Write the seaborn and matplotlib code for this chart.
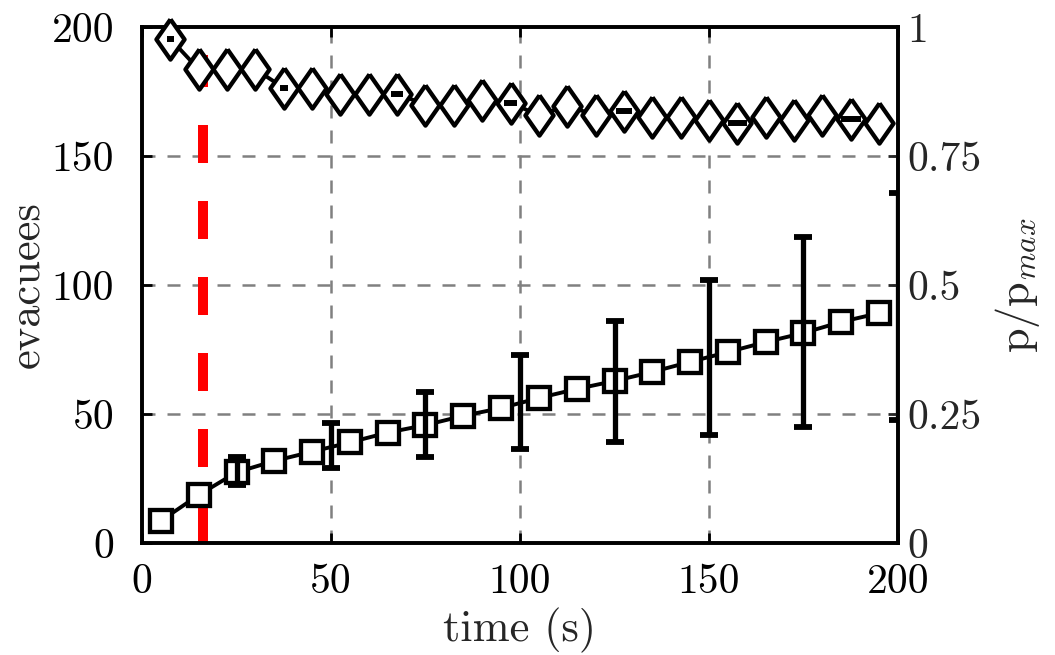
import numpy as np
import pandas as pd
import matplotlib
matplotlib.use("Agg")
import matplotlib.pyplot as plt
import seaborn as sns

# ---- data ----
sq_time = [5, 15, 25, 35, 45, 55, 65, 75, 85, 95, 105, 115, 125, 135, 145, 155, 165, 175, 185, 195]
evacuees = [8.6, 18.6, 27.4, 31.8, 35.4, 39.0, 42.8, 45.7, 49.3, 52.3, 56.2, 59.7, 62.8, 66.3, 70.2,
            74.0, 77.9, 81.4, 85.7, 89.1]

err_time = [25, 50, 75, 100, 125, 150, 175, 200]
err_low = [22.5, 29.0, 33.3, 36.4, 39.0, 42.0, 45.0, 47.7]
err_high = [33.3, 46.5, 58.5, 72.9, 86.0, 102.0, 118.6, 135.7]

dm_time = [7.5, 15, 22.5, 30, 37.5, 45, 52.5, 60, 67.5, 75, 82.5, 90, 97.5, 105, 112.5, 120, 127.5,
           135, 142.5, 150, 157.5, 165, 172.5, 180, 187.5, 195]
p_ratio = [0.977, 0.918, 0.918, 0.918, 0.882, 0.882, 0.871, 0.871, 0.871, 0.849, 0.849, 0.859, 0.853,
           0.829, 0.847, 0.829, 0.837, 0.826, 0.826, 0.820, 0.813, 0.826, 0.820, 0.829, 0.822, 0.813]

mk_time = [7.5, 37.5, 67.5, 97.5, 127.5, 157.5, 187.5]
mk_ratio = [0.977, 0.882, 0.871, 0.853, 0.837, 0.813, 0.822]
mk_xerr = [0.93, 1.1, 1.55, 1.75, 2.2, 2.5, 2.65]

red_time = 16.2

x_ticks = [0, 50, 100, 150, 200]
y_ticks = [0, 50, 100, 150, 200]
y2_ticks = [0, 0.25, 0.5, 0.75, 1]
y2_labels = ["0", "0.25", "0.5", "0.75", "1"]

# ---- style ----
sns.set_theme(style="white")
plt.rcParams["font.family"] = ["cmr10", "DejaVu Serif"]
plt.rcParams["mathtext.fontset"] = "cm"
plt.rcParams["axes.formatter.use_mathtext"] = True
plt.rcParams["axes.unicode_minus"] = False

fig = plt.figure(figsize=(10.55, 6.55), dpi=100)
ax = fig.add_axes([142 / 1055, 1 - 543 / 655, (898 - 142) / 1055, (543 - 27) / 655])
ax2 = ax.twinx()
ax2.set_position(ax.get_position())
ax2.patch.set_visible(False)

ax.set_xlim(0, 200)
ax.set_ylim(0, 200)
ax2.set_ylim(0, 1)

# grid
for v in [50, 100, 150]:
    ax.axvline(v, color="#808080", lw=1.8, ls=(0, (5.2, 4.8)), zorder=0)
    ax.axhline(v, color="#808080", lw=1.8, ls=(0, (5.2, 4.8)), zorder=0)

# red dashed line
ax.plot([red_time, red_time], [0, 189], color="#ff0000", lw=7.2, ls=(0, (3.8, 3.8)),
        solid_capstyle="butt", dash_capstyle="butt", zorder=1)

# squares
df_sq = pd.DataFrame({"time": sq_time, "evacuees": evacuees})
sns.lineplot(data=df_sq, x="time", y="evacuees", ax=ax, color="black", lw=2.8,
             marker="s", markersize=16.5, markerfacecolor="white", markeredgecolor="black",
             markeredgewidth=3.1, zorder=3)

lo = np.array(err_low)
hi = np.array(err_high)
mid = (lo + hi) / 2
half = (hi - lo) / 2
ax.errorbar(err_time, mid, yerr=half, fmt="none", ecolor="black", elinewidth=3.8,
            capsize=6.2, capthick=4.2, zorder=4)

# diamonds
diamond = [(0, 1), (0.70, 0), (0, -1), (-0.70, 0), (0, 1)]
df_dm = pd.DataFrame({"time": dm_time, "p": p_ratio})
sns.lineplot(data=df_dm, x="time", y="p", ax=ax2, color="black", lw=2.8,
             marker=diamond, markersize=29, markerfacecolor="white", markeredgecolor="black",
             markeredgewidth=3.1, zorder=3, clip_on=False)
ax2.errorbar(mk_time, mk_ratio, xerr=mk_xerr, fmt="none", ecolor="black", elinewidth=4.3,
             capsize=0, zorder=4)

# spines & ticks
for a in (ax, ax2):
    for s in a.spines.values():
        s.set_linewidth(2.6)
        s.set_color("black")

ax.set_xticks(x_ticks)
ax.set_xticklabels([str(v) for v in x_ticks])
ax.set_yticks(y_ticks)
ax.set_yticklabels([str(v) for v in y_ticks])
ax.tick_params(axis="both", direction="in", length=7, width=2, labelsize=30, colors="black")
ax.tick_params(axis="x", top=True, bottom=True, pad=15)
ax.tick_params(axis="y", left=True, right=False, pad=20)

ax2.set_yticks(y2_ticks)
ax2.set_yticklabels(y2_labels)
ax2.tick_params(axis="y", direction="in", length=7, width=2, labelsize=30, pad=7, right=True)

ax.set_xlabel("time (s)", fontsize=32, labelpad=5)
ax.set_ylabel("evacuees", fontsize=32, labelpad=3)
ax2.set_ylabel(r"p/p$_{max}$", fontsize=32, labelpad=8)
ax.grid(False)
ax2.grid(False)

fig.savefig("out.png", dpi=100)
